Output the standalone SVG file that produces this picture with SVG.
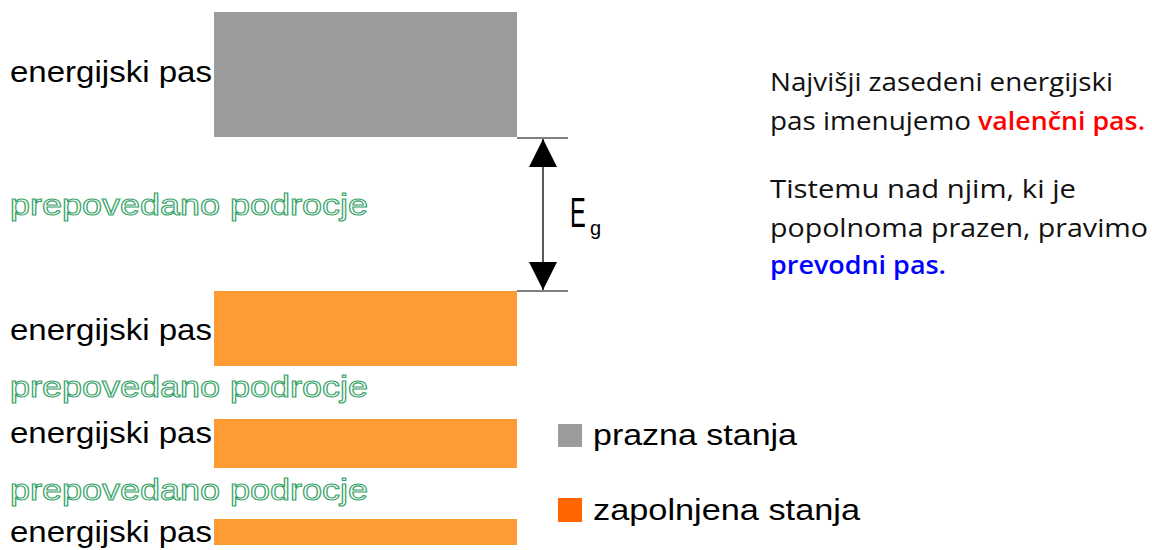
<svg xmlns="http://www.w3.org/2000/svg" width="1152" height="550" viewBox="0 0 1152 550">
<style>
.lbl{font-family:"Liberation Sans","DejaVu Sans",sans-serif;font-size:30px;fill:#000}
.gap{font-family:"Liberation Sans","DejaVu Sans",sans-serif;font-size:30px;fill:#fff;stroke:#3aa46a;stroke-width:1.1}
.txt{font-family:"Open Sans","Noto Sans",sans-serif;font-size:25px;fill:#111}
.hl{font-weight:600}
.empty{fill:#9b9b9b}
.full{fill:#ff9b35}
.dim{stroke:#555;stroke-width:1.3}
</style>
<defs>
<marker id="ah" viewBox="0 0 10 10" refX="10" refY="5" markerWidth="28" markerHeight="28" markerUnits="userSpaceOnUse" orient="auto">
<path d="M0,0 L10,5 L0,10 Z" fill="#000"/>
</marker>
</defs>
<rect width="1152" height="550" fill="#fff"/>
<g id="band-empty">
<rect class="empty" x="214" y="12" width="303" height="125"/>
<text class="lbl" x="10" y="82" textLength="202" lengthAdjust="spacingAndGlyphs">energijski pas</text>
</g>
<g id="gap-1"><text class="gap" x="10" y="215" textLength="358" lengthAdjust="spacingAndGlyphs">prepovedano podrocje</text></g>
<g id="band-valence">
<rect class="full" x="214" y="291" width="303" height="75"/>
<text class="lbl" x="10" y="340" textLength="202" lengthAdjust="spacingAndGlyphs">energijski pas</text>
</g>
<g id="gap-2"><text class="gap" x="10" y="397" textLength="358" lengthAdjust="spacingAndGlyphs">prepovedano podrocje</text></g>
<g id="band-3">
<rect class="full" x="214" y="419" width="303" height="49"/>
<text class="lbl" x="10" y="443" textLength="202" lengthAdjust="spacingAndGlyphs">energijski pas</text>
</g>
<g id="gap-3"><text class="gap" x="10" y="500" textLength="358" lengthAdjust="spacingAndGlyphs">prepovedano podrocje</text></g>
<g id="band-4">
<rect class="full" x="214" y="519" width="303" height="26"/>
<text class="lbl" x="10" y="542" textLength="202" lengthAdjust="spacingAndGlyphs">energijski pas</text>
</g>
<g id="connectors">
<line class="dim" x1="517" y1="138" x2="568" y2="138"/>
<line class="dim" x1="517" y1="291" x2="568" y2="291"/>
<line x1="543" y1="214" x2="543" y2="139" stroke="#000" stroke-width="1.3" marker-end="url(#ah)"/>
<line x1="543" y1="214" x2="543" y2="290" stroke="#000" stroke-width="1.3" marker-end="url(#ah)"/>
</g>
<g id="eg-label">
<text transform="translate(570,227) scale(0.55,1)" x="0" y="0" font-family="Liberation Sans,DejaVu Sans,sans-serif" font-size="43" fill="#000">E</text>
<text x="590" y="235" font-family="Liberation Sans,DejaVu Sans,sans-serif" font-size="20" fill="#000">g</text>
</g>
<g id="legend">
<rect class="empty" x="558" y="424" width="24" height="23"/>
<text class="lbl" x="593" y="445" textLength="204" lengthAdjust="spacingAndGlyphs">prazna stanja</text>
<rect x="558" y="498" width="24" height="24" fill="#ff6600"/>
<text class="lbl" x="593" y="520" textLength="267" lengthAdjust="spacingAndGlyphs">zapolnjena stanja</text>
</g>
<g id="note">
<text class="txt" x="770" y="91" textLength="343" lengthAdjust="spacingAndGlyphs">Najvišji zasedeni energijski</text>
<text class="txt" x="770" y="130" textLength="201" lengthAdjust="spacingAndGlyphs">pas imenujemo</text>
<text class="txt hl" x="978" y="130" textLength="167" lengthAdjust="spacingAndGlyphs" style="fill:#ff0000">valenčni pas.</text>
<text class="txt" x="770" y="198" textLength="306" lengthAdjust="spacingAndGlyphs">Tistemu nad njim, ki je</text>
<text class="txt" x="770" y="237" textLength="378" lengthAdjust="spacingAndGlyphs">popolnoma prazen, pravimo</text>
<text class="txt hl" x="770" y="274" textLength="176" lengthAdjust="spacingAndGlyphs" style="fill:#0000ff">prevodni pas.</text>
</g>
</svg>
